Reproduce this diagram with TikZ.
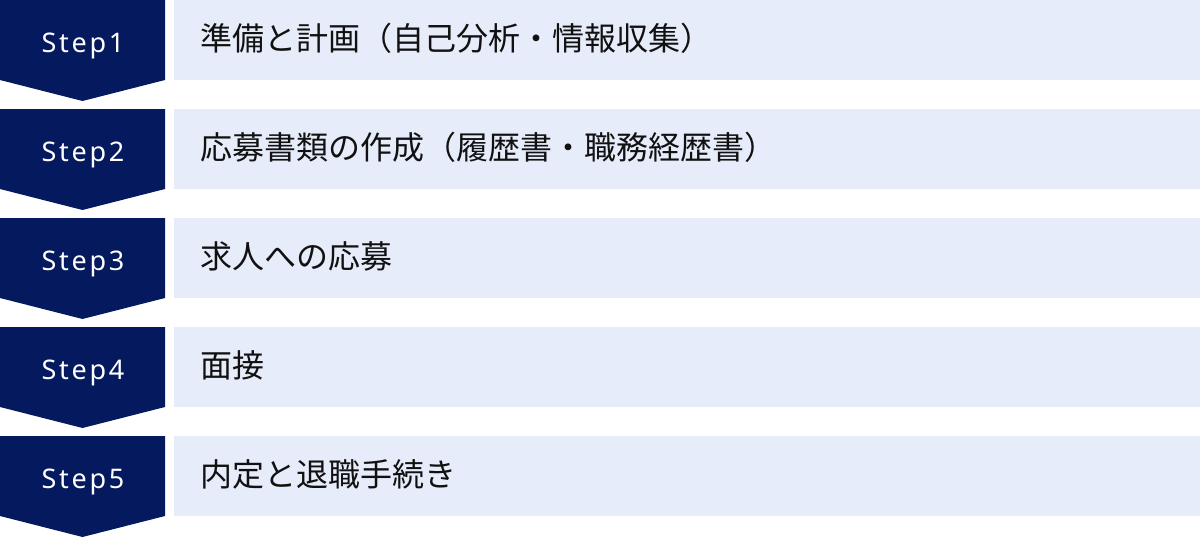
\documentclass[tikz,border=0pt]{standalone}
\usepackage{fontspec}
\newfontfamily\jpfont{Noto Sans CJK JP}
\newfontfamily\stepfont[LetterSpace=10]{Noto Sans}
\definecolor{navy}{RGB}{5,25,95}
\definecolor{paleblue}{RGB}{230,236,249}
\definecolor{inktext}{RGB}{17,17,17}
\begin{document}
\begin{tikzpicture}[x=1pt,y=-1pt,
    chevron/.style={fill=navy,draw=none},
    stepbar/.style={fill=paleblue,draw=none},
    steplabel/.style={text=white,font=\stepfont\fontsize{27}{32}\selectfont,anchor=base,inner sep=0pt},
    steptext/.style={text=inktext,font=\jpfont\fontsize{32}{38}\selectfont,anchor=base west,inner sep=0pt}]
    \useasboundingbox (0,0) rectangle (1200,538);
    \foreach \n/\txt [count=\i from 0] in {1/準備と計画（自己分析・情報収集）,2/応募書類の作成（履歴書・職務経歴書）,3/求人への応募,4/面接,5/内定と退職手続き}{
        \pgfmathsetmacro{\t}{109*\i}
        \draw[chevron] (0,\t) -- ++(165,0) -- ++(0,80) -- ++(-82.5,21) -- ++(-82.5,-21) -- cycle;
        \draw[stepbar] (174,\t) rectangle ++(1026,80);
        \node[steplabel] (step\n) at (83,\t+52) {Step\n};
        \node[steptext] (task\n) at (200,\t+50) {\txt};
    }
\end{tikzpicture}
\end{document}
